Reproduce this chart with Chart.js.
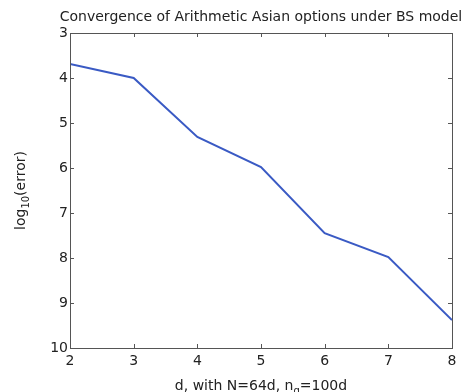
<!DOCTYPE html>
<html lang="en">
<head>
<meta charset="UTF-8">
<title>Convergence of Arithmetic Asian options under BS model</title>
<style>
    html, body { margin: 0; padding: 0; background: #fff; }
</style>
</head>
<body>
<canvas id="myChart" width="464" height="392"></canvas>
<script src="https://cdn.jsdelivr.net/npm/chart.js"></script>
<script>
    // values
    var dValues = [2, 3, 4, 5, 6, 7, 8];
    var logError = [-3.69, -4.0, -5.31, -5.98, -7.45, -7.98, -9.38];
    // tick labels as printed (the minus sign is missing in the original)
    var xTickLabels = ['2', '3', '4', '5', '6', '7', '8'];
    var yTickLabels = ['10', '9', '8', '7', '6', '5', '4', '3'];   // for -10 .. -3
    var titleText = 'Convergence of Arithmetic Asian options under BS model';
    // axis titles, split so subscripts can be drawn
    var xTitleParts = [['d, with N=64d, n', false], ['q', true], ['=100d', false]];
    var yTitleParts = [['log', false], ['10', true], ['(error)', false]];

    var FONT = 'DejaVu Sans';

    function drawParts(ctx, parts, x, y) {
        var mainF = '14px "' + FONT + '"', subF = '10px "' + FONT + '"';
        var w = 0;
        parts.forEach(function (p) { ctx.font = p[1] ? subF : mainF; w += ctx.measureText(p[0]).width; });
        var cx = x - w / 2;
        ctx.textAlign = 'left';
        ctx.textBaseline = 'alphabetic';
        parts.forEach(function (p) {
            ctx.font = p[1] ? subF : mainF;
            ctx.fillText(p[0], cx, p[1] ? y + 4 : y);
            cx += ctx.measureText(p[0]).width;
        });
    }

    // box, inward tick marks, title and axis titles, like the original
    // (title drawn here because it overhangs the plot on the right)
    var frame = {
        id: 'frame',
        afterDraw: function (chart) {
            var ctx = chart.ctx, a = chart.chartArea, xs = chart.scales.x, ys = chart.scales.y;
            ctx.save();
            ctx.strokeStyle = '#555';
            ctx.lineWidth = 1;
            ctx.strokeRect(Math.round(a.left) + 0.5, Math.round(a.top) + 0.5,
                Math.round(a.right - a.left), Math.round(a.bottom - a.top));
            ctx.beginPath();
            xs.ticks.forEach(function (t) {
                var px = Math.round(xs.getPixelForValue(t.value)) + 0.5;
                ctx.moveTo(px, a.bottom); ctx.lineTo(px, a.bottom - 4);
                ctx.moveTo(px, a.top); ctx.lineTo(px, a.top + 4);
            });
            ys.ticks.forEach(function (t) {
                var py = Math.round(ys.getPixelForValue(t.value)) + 0.5;
                ctx.moveTo(a.left, py); ctx.lineTo(a.left + 4, py);
                ctx.moveTo(a.right, py); ctx.lineTo(a.right - 4, py);
            });
            ctx.stroke();

            ctx.fillStyle = '#222';
            ctx.font = '14px "' + FONT + '"';
            ctx.textAlign = 'center';
            ctx.textBaseline = 'middle';
            ctx.fillText(titleText, (a.left + a.right) / 2, 17);

            drawParts(ctx, xTitleParts, (a.left + a.right) / 2, 390);
            ctx.translate(25, (a.top + a.bottom) / 2);
            ctx.rotate(-Math.PI / 2);
            drawParts(ctx, yTitleParts, 0, 0);
            ctx.restore();
        }
    };

    var ctx1 = document.getElementById('myChart');
    var myChart = new Chart(ctx1, {
        type: 'line',
        data: {
            datasets: [{
                data: dValues.map(function (d, i) { return { x: d, y: logError[i] }; }),
                borderColor: '#3a5ac4',
                borderWidth: 2,
                pointRadius: 0,
                tension: 0,
                fill: false
            }]
        },
        options: {
            responsive: false,
            animation: false,
            layout: { padding: { left: 0, right: 12, top: 33, bottom: 0 } },
            scales: {
                x: {
                    type: 'linear',
                    min: 2, max: 8,
                    grid: { display: false, drawTicks: false },
                    border: { display: false },
                    ticks: {
                        stepSize: 1,
                        padding: 5,
                        color: '#222',
                        font: { family: FONT, size: 14 },
                        callback: function (v) { return xTickLabels[v - 2]; }
                    },
                    afterFit: function (s) { s.height = 44; }
                },
                y: {
                    min: -10, max: -3,
                    grid: { display: false, drawTicks: false },
                    border: { display: false },
                    ticks: {
                        stepSize: 1,
                        padding: 2,
                        color: '#222',
                        font: { family: FONT, size: 14 },
                        callback: function (v) { return yTickLabels[v + 10]; }
                    },
                    afterFit: function (s) { s.width = 70; }
                }
            },
            plugins: {
                legend: { display: false },
                tooltip: { enabled: false },
                title: { display: false }
            }
        },
        plugins: [frame]
    });
</script>
</body>
</html>
